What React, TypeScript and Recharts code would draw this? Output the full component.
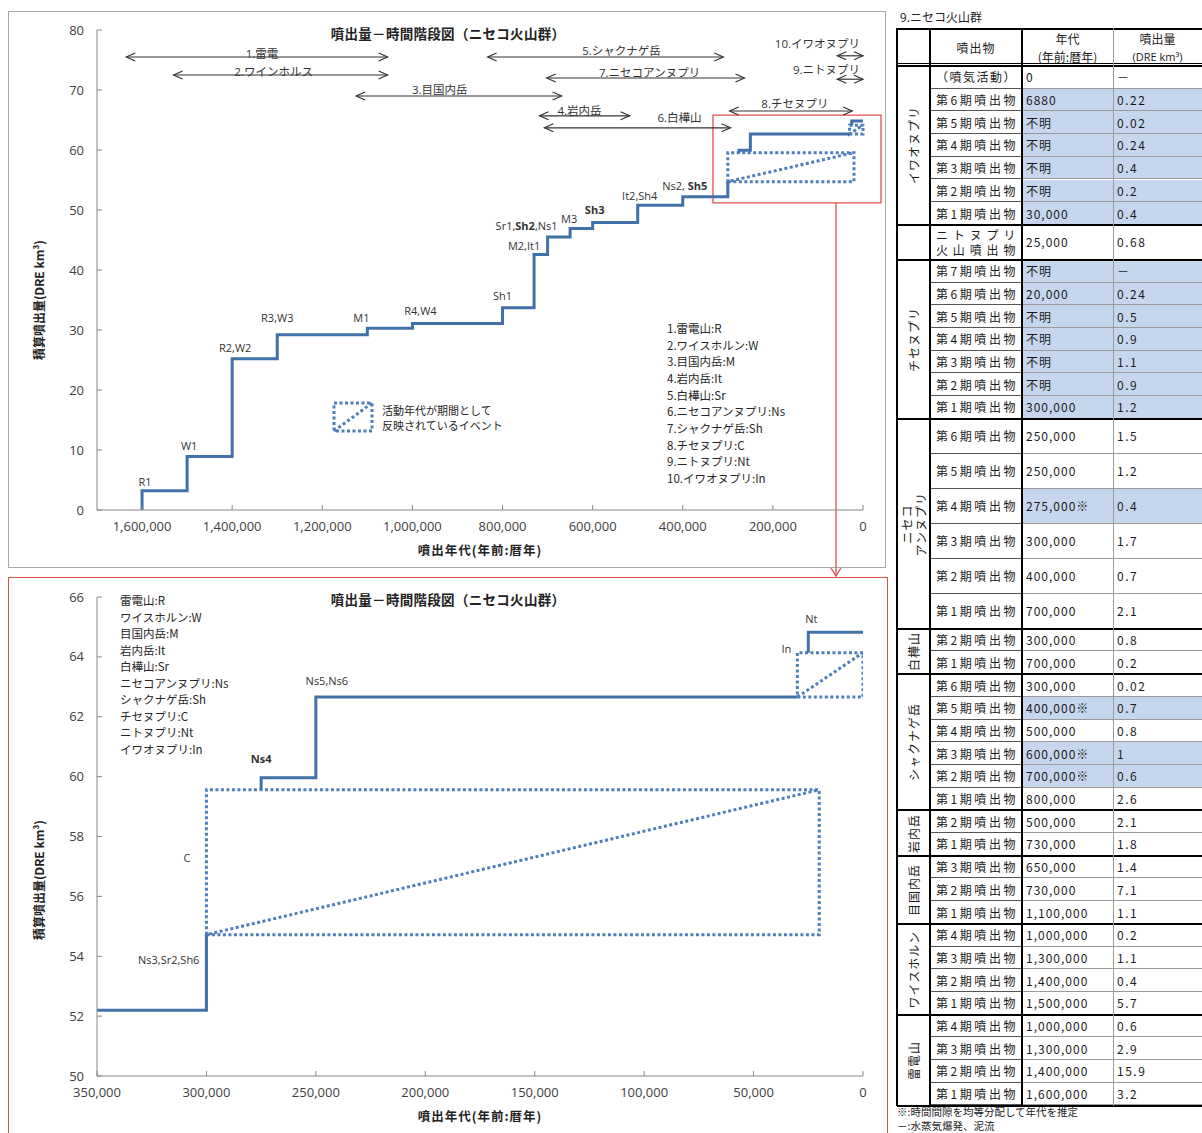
import React from 'react';
import {
  ComposedChart,
  Line,
  XAxis,
  YAxis,
  ReferenceLine,
  ReferenceDot,
  ReferenceArea,
} from 'recharts';

// cumulative step events (age in years BP, erupted volume in DRE km3)
const stepAges = [1600000, 1500000, 1400000, 1300000, 1100000, 1000000, 800000, 730000, 700000, 650000, 600000, 500000, 400000, 300000, 275000, 250000, 25000];
const stepVolumes = [3.2, 5.7, 16.3, 4.0, 1.1, 0.8, 2.6, 8.9, 2.9, 1.4, 1.0, 2.9, 1.4, 2.52, 0.4, 2.7, 0.68];
const stepLabels = ['R1', 'W1', 'R2,W2', 'R3,W3', 'M1', 'R4,W4', 'Sh1', 'M2,It1', 'Sr1,Sh2,Ns1', 'M3', 'Sh3', 'It2,Sh4', 'Ns2, Sh5', 'Ns3,Sr2,Sh6', 'Ns4', 'Ns5,Ns6', 'Nt'];
const boldCodes = ['Sh2', 'Sh3', 'Sh5', 'Ns4'];

// events whose age is only known as a period
const periodLabels = ['C', 'In'];
const periodFrom = [300000, 30000];
const periodTo = [20000, 0];
const periodVolumes = [4.84, 1.48];

// activity ranges shown as arrows
const rangeLabels = ['1.雷電', '2.ワインホルス', '3.目国内岳', '4.岩内岳', '5.シャクナゲ岳', '6.白樺山', '7.ニセコアンヌプリ', '8.チセヌプリ', '9.ニトヌプリ', '10.イワオヌプリ'];
const rangeFrom = [1635000, 1530000, 1125000, 718000, 833000, 707000, 702000, 296000, 57000, 57000];
const rangeTo = [1055000, 1055000, 669000, 518000, 310000, 294000, 263000, 24000, 0, 0];

const volcanoNames = ['雷電山', 'ワイスホルン', '目国内岳', '岩内岳', '白樺山', 'ニセコアンヌプリ', 'シャクナゲ岳', 'チセヌプリ', 'ニトヌプリ', 'イワオヌプリ'];
const volcanoCodes = ['R', 'W', 'M', 'It', 'Sr', 'Ns', 'Sh', 'C', 'Nt', 'In'];

const topXTicks = [0, 200000, 400000, 600000, 800000, 1000000, 1200000, 1400000, 1600000];
const topYTicks = [0, 10, 20, 30, 40, 50, 60, 70, 80];
const zoomXTicks = [0, 50000, 100000, 150000, 200000, 250000, 300000, 350000];
const zoomYTicks = [50, 52, 54, 56, 58, 60, 62, 64, 66];

// table
const groupNames = ['イワオヌプリ', '', 'チセヌプリ', 'ニセコ\nアンヌプリ', '白樺山', 'シャクナゲ岳', '岩内岳', '目国内岳', 'ワイスホルン', '雷電山'];
const groupStages = [
  ['（噴気活動）', '第6期噴出物', '第5期噴出物', '第4期噴出物', '第3期噴出物', '第2期噴出物', '第1期噴出物'],
  ['ニトヌプリ\n火山噴出物'],
  ['第7期噴出物', '第6期噴出物', '第5期噴出物', '第4期噴出物', '第3期噴出物', '第2期噴出物', '第1期噴出物'],
  ['第6期噴出物', '第5期噴出物', '第4期噴出物', '第3期噴出物', '第2期噴出物', '第1期噴出物'],
  ['第2期噴出物', '第1期噴出物'],
  ['第6期噴出物', '第5期噴出物', '第4期噴出物', '第3期噴出物', '第2期噴出物', '第1期噴出物'],
  ['第2期噴出物', '第1期噴出物'],
  ['第3期噴出物', '第2期噴出物', '第1期噴出物'],
  ['第4期噴出物', '第3期噴出物', '第2期噴出物', '第1期噴出物'],
  ['第4期噴出物', '第3期噴出物', '第2期噴出物', '第1期噴出物'],
];
const groupAges = [
  ['0', '6880', '不明', '不明', '不明', '不明', '30,000'],
  ['25,000'],
  ['不明', '20,000', '不明', '不明', '不明', '不明', '300,000'],
  ['250,000', '250,000', '275,000※', '300,000', '400,000', '700,000'],
  ['300,000', '700,000'],
  ['300,000', '400,000※', '500,000', '600,000※', '700,000※', '800,000'],
  ['500,000', '730,000'],
  ['650,000', '730,000', '1,100,000'],
  ['1,000,000', '1,300,000', '1,400,000', '1,500,000'],
  ['1,000,000', '1,300,000', '1,400,000', '1,600,000'],
];
const groupVolumes = [
  ['－', '0.22', '0.02', '0.24', '0.4', '0.2', '0.4'],
  ['0.68'],
  ['－', '0.24', '0.5', '0.9', '1.1', '0.9', '1.2'],
  ['1.5', '1.2', '0.4', '1.7', '0.7', '2.1'],
  ['0.8', '0.2'],
  ['0.02', '0.7', '0.8', '1', '0.6', '2.6'],
  ['2.1', '1.8'],
  ['1.4', '7.1', '1.1'],
  ['0.2', '1.1', '0.4', '5.7'],
  ['0.6', '2.9', '15.9', '3.2'],
];
const groupShaded = [
  [0, 1, 1, 1, 1, 1, 1],
  [0],
  [1, 1, 1, 1, 1, 1, 1],
  [0, 0, 1, 0, 0, 0],
  [0, 0],
  [0, 1, 0, 1, 1, 0],
  [0, 0],
  [0, 0, 0],
  [0, 0, 0, 0],
  [0, 0, 0, 0],
];

const FONT = "'Open Sans', 'Noto Sans CJK JP', sans-serif";
const JP = "'Noto Sans CJK JP', 'Noto Sans', sans-serif";
const LINE = '#4171a8';
const DOT = '#4e7fbb';
const RED = '#e0504a';
const AXIS = '#878787';
const SHADE = '#c6d7ed';

type Pt = { x: number; y: number };

function buildSeries() {
  const events = [
    ...stepAges.map((a, i) => ({ kind: 'step', age: a, v: stepVolumes[i], i })),
    ...periodFrom.map((a, i) => ({ kind: 'period', age: a, v: periodVolumes[i], i })),
  ].sort((a, b) => b.age - a.age || (a.kind === 'step' ? -1 : 1));
  const paths: Pt[][] = [];
  const boxes: Pt[][] = [];
  const tops: { x: number; y: number; label: string }[] = [];
  const boxTags: { x: number; y0: number; y1: number; label: string }[] = [];
  let cum = 0;
  let cur: Pt[] | null = [];
  for (const e of events) {
    if (e.kind === 'step') {
      if (!cur) cur = [];
      cur.push({ x: e.age, y: cum });
      cum += e.v;
      cur.push({ x: e.age, y: cum });
      tops.push({ x: e.age, y: cum, label: stepLabels[e.i] });
    } else {
      if (cur) {
        cur.push({ x: e.age, y: cum });
        paths.push(cur);
        cur = null;
      }
      const x0 = e.age;
      const x1 = periodTo[e.i];
      const y0 = cum;
      const y1 = cum + e.v;
      boxes.push([
        { x: x0, y: y0 },
        { x: x1, y: y0 },
        { x: x1, y: y1 },
        { x: x0, y: y1 },
        { x: x0, y: y0 },
        { x: x1, y: y1 },
      ]);
      boxTags.push({ x: x0, y0, y1, label: periodLabels[e.i] });
      cum = y1;
    }
  }
  if (cur) {
    cur.push({ x: 0, y: cum });
    paths.push(cur);
  }
  return { paths, boxes, tops, boxTags };
}

const fmt = (v: number) => v.toLocaleString('en-US');

function StepText({ x, y, text, anchor = 'middle' }: any) {
  const parts = text.split(/(,\s*)/);
  return (
    <text x={x} y={y} textAnchor={anchor} fontSize={11} fill="#333" fontFamily={FONT}>
      {parts.map((p: string, i: number) => (
        <tspan key={i} fontWeight={boldCodes.includes(p) ? 700 : 400}>
          {p}
        </tspan>
      ))}
    </text>
  );
}

// label layout for the top chart (dx, dy from the step top)
const topLabelDx = [3, 2, 3, 0, -6, 8, 0, -10, -21, -1, 2, 2, 2];
const topLabelDy = [-5, -7, -7, -13, -6, -8, -8, -4, -7, -6, -9, -5, -7];
// arrow rows
const rangeLevels = [75.5, 72.5, 69.0, 65.7, 75.5, 63.7, 72.0, 66.5, 71.8, 75.7];
const rangeDx = [5, -7, -19, -5, 16, 42, 4, 4, 0, 0];
const rangeDy = [1, 1, -2, -1, -2, -6, -1, -3, -5, -8];

function arrowShape(label: string, dx: number, dy: number, endAnchor: boolean) {
  return (p: any) => {
    const left = Math.min(p.x1, p.x2);
    const right = Math.max(p.x1, p.x2);
    const y = p.y1;
    const c = '#333';
    return (
      <g>
        <line x1={left} y1={y} x2={right} y2={y} stroke={c} strokeWidth={1.2} />
        <polyline points={`${left + 9},${y - 4} ${left},${y} ${left + 9},${y + 4}`} fill="none" stroke={c} strokeWidth={1.2} />
        <polyline points={`${right - 9},${y - 4} ${right},${y} ${right - 9},${y + 4}`} fill="none" stroke={c} strokeWidth={1.2} />
        <text
          x={endAnchor ? right - 3 : (left + right) / 2 + dx}
          y={y + dy}
          textAnchor={endAnchor ? 'end' : 'middle'}
          fontSize={11.5}
          fill="#333"
          fontFamily={FONT}
        >
          {label}
        </text>
      </g>
    );
  };
}

function redArrow(p: any) {
  return (
    <g>
      <line x1={p.x1} y1={p.y1} x2={p.x2} y2={p.y2} stroke={RED} strokeWidth={1.3} />
      <polyline points={`${p.x2 - 5},${p.y2 - 8} ${p.x2},${p.y2} ${p.x2 + 5},${p.y2 - 8}`} fill="none" stroke={RED} strokeWidth={1.3} />
    </g>
  );
}

const tickStyle = { fill: '#404040', fontSize: 13, fontFamily: FONT };

function TopChart({ s }: any) {
  return (
    <ComposedChart width={890} height={580} margin={{ top: 30, right: 27, bottom: 40, left: 37 }}>
      <XAxis
        type="number"
        dataKey="x"
        domain={[0, 1700000]}
        reversed
        ticks={topXTicks}
        interval={0}
        tickFormatter={fmt}
        height={30}
        tickSize={-5}
        tickMargin={17}
        stroke={AXIS}
        tick={tickStyle}
      />
      <YAxis
        type="number"
        dataKey="y"
        domain={[0, 80]}
        ticks={topYTicks}
        interval={0}
        width={60}
        tickSize={-5}
        tickMargin={18}
        stroke={AXIS}
        tick={tickStyle}
      />
      <ReferenceArea x1={333000} x2={-40000} y1={51.2} y2={65.8} ifOverflow="visible" fill="none" fillOpacity={0} stroke={RED} strokeWidth={1.3} />
      <ReferenceLine segment={[{ x: 60000, y: 51.2 }, { x: 60000, y: -11 }]} ifOverflow="visible" shape={redArrow} />
      {rangeLabels.map((l, i) => (
        <ReferenceLine
          key={'r' + i}
          segment={[{ x: rangeFrom[i], y: rangeLevels[i] }, { x: rangeTo[i], y: rangeLevels[i] }]}
          ifOverflow="visible"
          shape={arrowShape(l, rangeDx[i], rangeDy[i], i >= 8)}
        />
      ))}
      {s.boxes.map((b: Pt[], i: number) => (
        <Line key={'b' + i} data={b} dataKey="y" type="linear" stroke={DOT} strokeWidth={3} strokeDasharray="3 2.5" dot={false} activeDot={false} isAnimationActive={false} />
      ))}
      {s.paths.map((p: Pt[], i: number) => (
        <Line key={'p' + i} data={p} dataKey="y" type="linear" stroke={LINE} strokeWidth={3} strokeLinejoin="miter" dot={false} activeDot={false} isAnimationActive={false} />
      ))}
      {s.tops.slice(0, 13).map((t: any, i: number) => (
        <ReferenceDot
          key={'t' + i}
          x={t.x}
          y={t.y}
          r={1}
          ifOverflow="visible"
          shape={(p: any) => <StepText x={p.cx + topLabelDx[i]} y={p.cy + topLabelDy[i]} text={t.label} />}
        />
      ))}
    </ComposedChart>
  );
}

// label layout for the zoomed chart
const zoomLabelDx = [-7, 0, 11, 3];
const zoomLabelDy = [29, -15, -12, -9];
const zoomLabelAnchor = ['end', 'middle', 'middle', 'middle'];

function ZoomChart({ s }: any) {
  return (
    <ComposedChart width={890} height={555} margin={{ top: 19, right: 27, bottom: 27, left: 37 }}>
      <XAxis
        type="number"
        dataKey="x"
        domain={[0, 350000]}
        allowDataOverflow
        reversed
        ticks={zoomXTicks}
        interval={0}
        tickFormatter={fmt}
        height={30}
        tickSize={-5}
        tickMargin={17}
        stroke={AXIS}
        tick={tickStyle}
      />
      <YAxis
        type="number"
        dataKey="y"
        domain={[50, 66]}
        allowDataOverflow
        ticks={zoomYTicks}
        interval={0}
        width={60}
        tickSize={-5}
        tickMargin={18}
        stroke={AXIS}
        tick={tickStyle}
      />
      {s.boxes.map((b: Pt[], i: number) => (
        <Line key={'b' + i} data={b} dataKey="y" type="linear" stroke={DOT} strokeWidth={3} strokeDasharray="3 2.5" dot={false} activeDot={false} isAnimationActive={false} />
      ))}
      {s.paths.map((p: Pt[], i: number) => (
        <Line key={'p' + i} data={p} dataKey="y" type="linear" stroke={LINE} strokeWidth={3} strokeLinejoin="miter" dot={false} activeDot={false} isAnimationActive={false} />
      ))}
      {s.tops.slice(13).map((t: any, i: number) => (
        <ReferenceDot
          key={'t' + i}
          x={t.x}
          y={t.y}
          r={1}
          ifOverflow="visible"
          shape={(p: any) => (
            <StepText x={p.cx + zoomLabelDx[i]} y={p.cy + zoomLabelDy[i]} text={t.label} anchor={zoomLabelAnchor[i]} />
          )}
        />
      ))}
      {s.boxTags.map((b: any, i: number) => (
        <ReferenceDot
          key={'c' + i}
          x={b.x}
          y={i === 0 ? (b.y0 + b.y1) / 2 : b.y1}
          r={1}
          ifOverflow="visible"
          shape={(p: any) => <StepText x={p.cx + (i === 0 ? -16 : -6)} y={p.cy} text={b.label} anchor="end" />}
        />
      ))}
    </ComposedChart>
  );
}

function Abs({ x, y, children, style }: any) {
  return (
    <div style={{ position: 'absolute', left: x, top: y, transform: 'translateY(-50%)', whiteSpace: 'nowrap', ...style }}>
      {children}
    </div>
  );
}

function CenterText({ x, y, children, style }: any) {
  return (
    <div style={{ position: 'absolute', left: x, top: y, transform: 'translate(-50%,-50%)', whiteSpace: 'nowrap', ...style }}>
      {children}
    </div>
  );
}

const titleStyle = { fontSize: 13.5, fontWeight: 700, color: '#222', letterSpacing: 0.3 };
const axisTitleStyle = { fontSize: 12.5, fontWeight: 700, color: '#222', letterSpacing: 1 };
const yTitleStyle = { fontSize: 12, fontWeight: 700, color: '#222', transform: 'translate(-50%,-50%) rotate(-90deg)' };

function VolcanoTable() {
  const cols = [897, 930, 1022, 1113, 1215];
  const top = 28;
  const headBottom = 66;
  const cells: any[] = [];
  const lines: any[] = [];
  let y = headBottom;
  const txt = { fontSize: 12, color: '#1a1a1a', letterSpacing: 1 };
  groupNames.forEach((g, gi) => {
    const h = gi === 1 || gi === 3 ? 35 : 22.7;
    const n = groupStages[gi].length;
    const gy = y;
    cells.push(
      <div key={'g' + gi} style={{ position: 'absolute', left: cols[0], top: gy, width: cols[1] - cols[0], height: n * h, display: 'flex', alignItems: 'center', justifyContent: 'center' }}>
        <div style={{ writingMode: 'vertical-rl', textOrientation: 'sideways', transform: 'rotate(180deg)', whiteSpace: 'pre', fontSize: 12, letterSpacing: 1, lineHeight: '14px', textAlign: 'center', color: '#1a1a1a' }}>
          {g}
        </div>
      </div>
    );
    groupStages[gi].forEach((st, ri) => {
      const ry = gy + ri * h;
      const bg = groupShaded[gi][ri] ? SHADE : '#fff';
      const base = { position: 'absolute', top: ry, height: h, boxSizing: 'border-box', display: 'flex', alignItems: 'center', ...txt } as any;
      cells.push(
        <div key={`n${gi}-${ri}`} style={{ ...base, left: cols[1], width: cols[2] - cols[1], borderBottom: '1px solid #555', padding: '0 5px 0 6px' }}>
          <div style={{ width: '100%', whiteSpace: 'pre-line', textAlign: 'justify', textAlignLast: 'justify', lineHeight: '15px', letterSpacing: 1.5 } as any}>{st}</div>
        </div>
      );
      cells.push(
        <div key={`a${gi}-${ri}`} style={{ ...base, left: cols[2], width: cols[3] - cols[2], background: bg, borderBottom: '1px solid #9a9a9a', paddingLeft: 4 }}>
          {groupAges[gi][ri]}
        </div>
      );
      cells.push(
        <div key={`v${gi}-${ri}`} style={{ ...base, left: cols[3], width: cols[4] - cols[3], background: bg, borderBottom: '1px solid #9a9a9a', paddingLeft: 4, letterSpacing: 1.5 }}>
          {groupVolumes[gi][ri]}
        </div>
      );
    });
    if (gi > 0) lines.push(<div key={'h' + gi} style={{ position: 'absolute', left: cols[0], top: gy - 1, width: cols[4] - cols[0], height: 2, background: '#000' }} />);
    y += n * h;
  });
  const bottom = y;
  return (
    <>
      <Abs x={900} y={16} style={{ fontSize: 12, color: '#222' }}>9.ニセコ火山群</Abs>
      {cells}
      <CenterText x={(cols[1] + cols[2]) / 2} y={47} style={{ fontSize: 12, color: '#1a1a1a', letterSpacing: 1 }}>噴出物</CenterText>
      <CenterText x={(cols[2] + cols[3]) / 2} y={38} style={{ fontSize: 12, color: '#1a1a1a' }}>年代</CenterText>
      <CenterText x={(cols[2] + cols[3]) / 2} y={56} style={{ fontSize: 12, color: '#1a1a1a' }}>(年前:暦年)</CenterText>
      <CenterText x={(cols[3] + 1202) / 2} y={38} style={{ fontSize: 12, color: '#1a1a1a' }}>噴出量</CenterText>
      <CenterText x={(cols[3] + 1202) / 2} y={56} style={{ fontSize: 11, color: '#1a1a1a', fontFamily: FONT }}>(DRE km³)</CenterText>
      {lines}
      <div style={{ position: 'absolute', left: cols[0], top: top, width: cols[4] - cols[0], height: 2, background: '#000' }} />
      <div style={{ position: 'absolute', left: cols[0], top: headBottom - 3, width: cols[4] - cols[0], height: 1, background: '#000' }} />
      <div style={{ position: 'absolute', left: cols[0], top: headBottom - 1, width: cols[4] - cols[0], height: 2, background: '#000' }} />
      <div style={{ position: 'absolute', left: cols[0], top: bottom - 1, width: cols[4] - cols[0], height: 2, background: '#000' }} />
      <div style={{ position: 'absolute', left: cols[0] - 1, top: top, width: 2, height: bottom - top, background: '#000' }} />
      <div style={{ position: 'absolute', left: cols[1] - 1, top: top, width: 2, height: bottom - top, background: '#000' }} />
      <div style={{ position: 'absolute', left: cols[2] - 1, top: top, width: 2, height: bottom - top, background: '#000' }} />
      <div style={{ position: 'absolute', left: cols[3], top: top, width: 1, height: bottom - top, background: '#9a9a9a' }} />
      <Abs x={897} y={1112} style={{ fontSize: 10.5, color: '#222', lineHeight: '10.5px' }}>※:時間間隙を均等分配して年代を推定</Abs>
      <Abs x={897} y={1126} style={{ fontSize: 10.5, color: '#222', lineHeight: '10.5px' }}>－:水蒸気爆発、泥流</Abs>
    </>
  );
}

export default function App() {
  const s = buildSeries();
  const listStyle = { fontSize: 11.5, color: '#262626', fontFamily: JP };
  return (
    <div style={{ position: 'relative', width: 1202, height: 1133, overflow: 'hidden', background: '#fff', fontFamily: JP, color: '#262626' }}>
      <style>{'body{margin:0}'}</style>
      <div style={{ position: 'absolute', left: 8, top: 11, width: 878, height: 557, border: '1.5px solid #a8a8a8', boxSizing: 'border-box' }} />
      <div style={{ position: 'absolute', left: 8, top: 577, width: 880, height: 580, border: `1.5px solid ${RED}`, boxSizing: 'border-box' }} />
      <div style={{ position: 'absolute', left: 0, top: 0 }}>
        <TopChart s={s} />
      </div>
      <div style={{ position: 'absolute', left: 0, top: 578 }}>
        <ZoomChart s={s} />
      </div>

      <CenterText x={448} y={33} style={titleStyle}>噴出量－時間階段図（ニセコ火山群）</CenterText>
      <CenterText x={480} y={549} style={axisTitleStyle}>噴出年代(年前:暦年)</CenterText>
      <CenterText x={38} y={300} style={yTitleStyle}>積算噴出量(DRE km³)</CenterText>

      <CenterText x={448} y={599} style={titleStyle}>噴出量－時間階段図（ニセコ火山群）</CenterText>
      <CenterText x={480} y={1115} style={axisTitleStyle}>噴出年代(年前:暦年)</CenterText>
      <CenterText x={38} y={880} style={yTitleStyle}>積算噴出量(DRE km³)</CenterText>

      {volcanoNames.map((n, i) => (
        <Abs key={'l' + i} x={667} y={328 + i * 16.65} style={listStyle}>
          {`${i + 1}.${n}:${volcanoCodes[i]}`}
        </Abs>
      ))}
      {volcanoNames.map((n, i) => (
        <Abs key={'m' + i} x={120} y={600 + i * 16.5} style={listStyle}>
          {`${n}:${volcanoCodes[i]}`}
        </Abs>
      ))}

      <svg style={{ position: 'absolute', left: 331, top: 400 }} width={44} height={34}>
        <rect x={3} y={3} width={38} height={28} fill="none" stroke={DOT} strokeWidth={3} strokeDasharray="3 2.5" />
        <line x1={3} y1={31} x2={41} y2={3} stroke={DOT} strokeWidth={3} strokeDasharray="3 2.5" />
      </svg>
      <Abs x={382} y={410} style={{ fontSize: 11, color: '#262626' }}>活動年代が期間として</Abs>
      <Abs x={382} y={425} style={{ fontSize: 11, color: '#262626' }}>反映されているイベント</Abs>

      <VolcanoTable />
    </div>
  );
}
